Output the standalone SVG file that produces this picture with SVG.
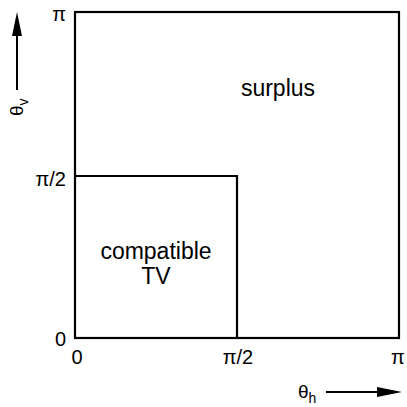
<svg xmlns="http://www.w3.org/2000/svg" width="407" height="407" viewBox="0 0 407 407">
<style>
text{font-family:"Liberation Sans",Arial,sans-serif;fill:#000}
.big{font-size:23px}
.tick{font-size:20px}
.ax{font-size:19px}
.l{fill:none;stroke:#000;stroke-width:2.2}
.a{stroke:#000;stroke-width:2}
.h{fill:#000}
</style>
<rect width="407" height="407" fill="#fff"/>
<g id="connectors">
<line class="a" x1="17" y1="90" x2="17" y2="30"/>
<path class="h" d="M17,12L12,36L22,36z"/>
<line class="a" x1="326" y1="392" x2="385" y2="392"/>
<path class="h" d="M402,392L377,387L377,397z"/>
</g>
<g id="surplus">
<rect class="l" x="75" y="12" width="324" height="326"/>
<text class="big" x="278" y="96" text-anchor="middle">surplus</text>
</g>
<g id="compatible">
<path class="l" d="M75,176H237V338"/>
<text class="big" x="156" y="259" text-anchor="middle">compatible</text>
<text class="big" x="156" y="284" text-anchor="middle">TV</text>
</g>
<g id="labels">
<text class="tick" x="66" y="21" text-anchor="end">π</text>
<text class="tick" x="66" y="186" text-anchor="end">π/2</text>
<text class="tick" x="66" y="346" text-anchor="end">0</text>
<text class="tick" x="77" y="364" text-anchor="middle">0</text>
<text class="tick" x="238" y="364" text-anchor="middle">π/2</text>
<text class="tick" x="398" y="364" text-anchor="middle">π</text>
<text class="ax" transform="translate(23,116) rotate(-90)">θ<tspan font-size="14" dy="5">v</tspan></text>
<text class="ax" x="298" y="398">θ<tspan font-size="14" dy="5">h</tspan></text>
</g>
</svg>
